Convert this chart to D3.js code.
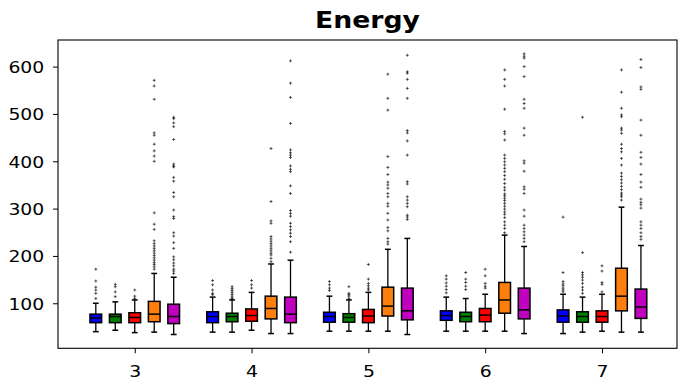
<!DOCTYPE html>
<html><head><meta charset="utf-8">
<script src="https://cdn.jsdelivr.net/npm/d3@7"></script>
<style>body{margin:0;background:#fff}svg{display:block}</style>
</head><body>
<svg id="chart" width="686" height="387"></svg>
<script>
// ---- data ----
const categories = [3, 4, 5, 6, 7];
const seriesNames = ["s1", "s2", "s3", "s4", "s5"];
const seriesColors = ["#0000ff", "#008000", "#ff0000", "#ff7f0e", "#bf00bf"];
const yTicks = [100, 200, 300, 400, 500, 600];
const title = "Energy";

// stats per category: [whiskerLow, q1, median, q3, whiskerHigh]
const blueStats = [[40,59,69,77,100],[39,59,72,82,113],[41,60,72,81,115],[41,64,74,84,113],[36,60,73,86,119]];
const greenStats = [[43,59,72,77,103],[39,61,72,79,107],[41,60,70,78,107],[41,61,72,81,110],[39,60,72,82,113]];
const redStats = [[38,59,70,80,107],[43,62,74,88,123],[41,59,73,87,123],[41,61,75,89,119],[41,60,72,84,119]];
const orangeStats = [[39,61,77,104,163],[36,67,89,115,183],[41,73,94,134,214],[41,79,107,144,244],[39,84,115,174,303]];
const magentaStats = [[34,57,72,98,155],[36,59,77,113,191],[34,65,84,132,237],[36,67,86,132,220],[39,68,92,130,222]];

const blueOutliers = [
  [172,147,134,128,121,110],
  [148,139,128,121,118],
  [146,139,132,127],
  [158,151,143,136,129,122],
  [282,165,146,141,137,132,128,124]
];
const greenOutliers = [
  [140,135,124,114],
  [135,131,127,123,119,115,111,109],
  [135,121,118,115,110],
  [165,151,144,136,129],
  [493,207,165,160,155,149,142,134,128,121]
];
const redOutliers = [
  [128,115,110],
  [148,139,132],
  [182,151,142,137,132,128],
  [172,158,142,136,132],
  [179,168,144,140,124]
];
const orangeOutliers = [
  [571,559,531,460,455,436,422,411,400,291,267,256,232,226,221,216,211,206,201,196,191,186,182,177,172],
  [427,315,274,269,241,236,231,226,221,216,211,206,202,195,188],
  [584,533,508,410,387,372,356,350,343,332,325,311,305,290,276,260,253,237,230,225],
  [593,573,559,510,463,458,445,413,406,399,392,385,378,370,362,353,345,339,331,327,322,317,311,305,299,293,288,281,272,265,258,249],
  [593,546,512,498,494,470,466,459,436,427,420,406,392,375,368,361,354,347,340,333,329,325,318]
];
const magentaOutliers = [
  [493,490,481,473,446,394,390,388,366,358,334,325,297,283,279,249,242,228,216,198,192,185,179,172,168,163],
  [612,565,535,480,424,418,413,408,390,383,378,348,332,296,290,284,269,262,255,248,241,230,208],
  [624,589,586,573,554,533,465,460,443,413,357,352,325,318,311,304,286,282,277],
  [627,622,618,600,579,531,522,512,470,455,401,396,379,346,341,332,297,284,265,258,251,244,237,230],
  [615,598,557,552,487,455,419,408,394,372,356,345,320,313,308,301,272,265,258,249,241,235]
];

const allStats = [blueStats, greenStats, redStats, orangeStats, magentaStats];
const allOutliers = [blueOutliers, greenOutliers, redOutliers, orangeOutliers, magentaOutliers];

// ---- layout ----
const L = 58, R = 677, T = 40, B = 348.3;
const SX = 1.14; // horizontal text stretch
const svg = d3.select("#chart");

const x = d3.scaleLinear().domain([2.343, 7.642]).range([L, R]);
const y = d3.scaleLinear().domain([4.86, 656.2]).range([B, T]);

const offsets = [-1/3, -1/6, 0, 1/6, 1/3];
const boxW = x(0.1) - x(0);

// boxes
allStats.forEach((stats, si) => {
  const g = svg.append("g");
  stats.forEach((s, ci) => {
    const cx = x(categories[ci] + offsets[si]);
    const [lo, q1, med, q3, hi] = s;
    const line = (x1, y1, x2, y2, w) => g.append("line")
      .attr("x1", x1).attr("y1", y1).attr("x2", x2).attr("y2", y2)
      .attr("stroke", "#000").attr("stroke-width", w);
    line(cx, y(q3), cx, y(hi), 1.3);
    line(cx, y(q1), cx, y(lo), 1.3);
    line(cx - boxW/4, y(hi), cx + boxW/4, y(hi), 1.5);
    line(cx - boxW/4, y(lo), cx + boxW/4, y(lo), 1.5);
    g.append("rect")
      .attr("x", cx - boxW/2).attr("y", y(q3))
      .attr("width", boxW).attr("height", y(q1) - y(q3))
      .attr("fill", seriesColors[si]).attr("stroke", "#000").attr("stroke-width", 1.5);
    line(cx - boxW/2, y(med), cx + boxW/2, y(med), 1.5);
    allOutliers[si][ci].forEach(v => {
      g.append("path")
        .attr("d", "M-1.5,0H1.5M0,-1.5V1.5")
        .attr("transform", `translate(${cx},${y(v)})`)
        .attr("stroke", "#000").attr("stroke-opacity", 0.6).attr("stroke-width", 1)
        .attr("fill", "none");
    });
  });
});

// axes
const yAxis = svg.append("g").attr("transform", `translate(${L},0)`)
  .call(d3.axisLeft(y).tickValues(yTicks).tickSize(5).tickSizeOuter(0));
yAxis.select(".domain").remove();
yAxis.selectAll(".tick line").attr("stroke", "#000").attr("stroke-width", 1);
yAxis.selectAll(".tick text")
  .attr("x", null).attr("dy", "0.36em")
  .attr("transform", `translate(-13.7,0) scale(${SX},1)`)
  .attr("font-family", "DejaVu Sans").attr("font-size", 16.5).attr("fill", "#000");

const xAxis = svg.append("g").attr("transform", `translate(0,${B})`)
  .call(d3.axisBottom(x).tickValues(categories).tickSize(5).tickSizeOuter(0).tickFormat(d3.format("d")));
xAxis.select(".domain").remove();
xAxis.selectAll(".tick line").attr("stroke", "#000").attr("stroke-width", 1);
xAxis.selectAll(".tick text")
  .attr("y", null).attr("dy", null)
  .attr("transform", `translate(0,28.7) scale(${SX},1)`)
  .attr("font-family", "DejaVu Sans").attr("font-size", 16.5).attr("fill", "#000");

// frame
svg.append("rect").attr("x", L).attr("y", T).attr("width", R - L).attr("height", B - T)
  .attr("fill", "none").attr("stroke", "#000").attr("stroke-width", 1.1);

// title
svg.append("text")
  .attr("transform", `translate(${(L + R) / 2},28.3) scale(1.16,1)`)
  .attr("text-anchor", "middle")
  .attr("font-family", "DejaVu Sans").attr("font-weight", "bold").attr("font-size", 23)
  .attr("fill", "#000").text(title);
</script>
</body></html>
